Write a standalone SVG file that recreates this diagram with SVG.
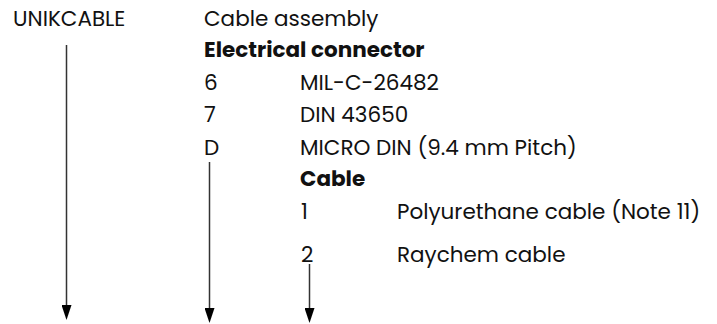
<svg xmlns="http://www.w3.org/2000/svg" width="717" height="324" viewBox="0 0 717 324">
  <defs>
    <style>
      text { font-family: Poppins, "Open Sans", "DejaVu Sans", sans-serif; font-size: 21.5px; fill: #111; }
      .b { font-weight: 700; }
      .conn line { stroke: #333; stroke-width: 1.5; fill: none; }
    </style>
    <marker id="arr" viewBox="0 0 15 10" refX="0" refY="5" markerWidth="15" markerHeight="10" markerUnits="userSpaceOnUse" orient="auto">
      <path d="M0,0 L15,5 L0,10 z" fill="#000"/>
    </marker>
  </defs>
  <rect width="717" height="324" fill="#fff"/>

  <g id="n-unikcable"><text x="13" y="26">UNIKCABLE</text></g>
  <g id="n-assembly"><text x="204" y="26">Cable assembly</text></g>
  <g id="n-connector-title"><text class="b" x="204" y="57">Electrical connector</text></g>
  <g id="n-conn-6"><text x="204" y="90">6</text><text x="300" y="90">MIL-C-26482</text></g>
  <g id="n-conn-7"><text x="204" y="122">7</text><text x="300" y="122">DIN 43650</text></g>
  <g id="n-conn-d"><text x="204" y="155">D</text><text x="300" y="155">MICRO DIN (9.4 mm Pitch)</text></g>
  <g id="n-cable-title"><text class="b" x="300" y="186">Cable</text></g>
  <g id="n-cable-1"><text x="301" y="219">1</text><text x="397" y="219">Polyurethane cable (Note 11)</text></g>
  <g id="n-cable-2"><text x="301" y="262">2</text><text x="397" y="262">Raychem cable</text></g>

  <g id="connectors" class="conn">
    <line x1="66.5" y1="45" x2="66.5" y2="305" marker-end="url(#arr)"/>
    <line x1="209.5" y1="162" x2="209.5" y2="308" marker-end="url(#arr)"/>
    <line x1="309.5" y1="264" x2="309.5" y2="308" marker-end="url(#arr)"/>
  </g>
</svg>
